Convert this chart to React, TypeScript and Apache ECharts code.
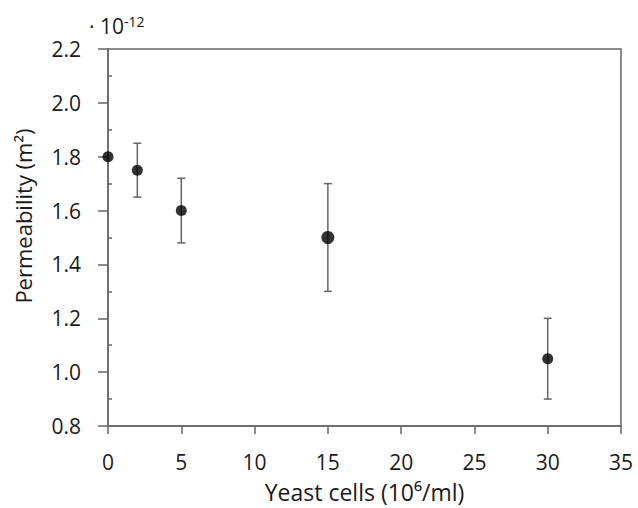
import React, { useEffect, useRef } from "react";
import * as echarts from "echarts";

const xValues = [0, 2, 5, 15, 30];
const meanValues = [1.8, 1.75, 1.6, 1.5, 1.05];
const lowValues = [1.8, 1.65, 1.48, 1.3, 0.9];
const highValues = [1.8, 1.85, 1.72, 1.7, 1.2];
const markerSizes = [11, 11, 11, 13, 11];
const xTitle = "Yeast cells (10⁶/ml)";
const yTitle = "Permeability (m²)";

const AXIS = "#6b6464";
const TEXT = "#1a1a1a";
const FONT = "Open Sans";

export default function App() {
  const ref = useRef<HTMLDivElement>(null);
  useEffect(() => {
    if (!ref.current) return;
    const chart = echarts.init(ref.current, undefined, { renderer: "svg" });
    const errData = xValues.map((x, i) => [x, lowValues[i], highValues[i]]);
    const ptData = xValues.map((x, i) => ({
      value: [x, meanValues[i]],
      symbolSize: markerSizes[i],
    }));
    chart.setOption({
      animation: false,
      backgroundColor: "#ffffff",
      grid: {
        left: 108,
        right: 17,
        top: 49,
        bottom: 82,
        show: true,
        borderColor: AXIS,
        borderWidth: 1.5,
        outerBoundsMode: "none",
      },
      graphic: [
        {
          type: "text",
          left: 89,
          top: 14,
          style: {
            text: "{a|· 10}{s|-12}",
            rich: {
              a: { fontFamily: FONT, fontSize: 21, fill: TEXT },
              s: {
                fontFamily: FONT,
                fontSize: 14,
                fill: TEXT,
                verticalAlign: "top",
                padding: [0, 0, 10, 0],
              },
            },
          },
        },
        {
          type: "text",
          x: 23,
          y: 216,
          rotation: Math.PI / 2,
          style: {
            text: yTitle,
            fontFamily: FONT,
            fontSize: 22,
            fill: TEXT,
            align: "center",
            verticalAlign: "middle",
          },
        },
      ],
      xAxis: {
        type: "value",
        min: 0,
        max: 35,
        interval: 5,
        name: xTitle,
        nameLocation: "middle",
        nameGap: 53,
        nameTextStyle: { fontFamily: FONT, fontSize: 23, color: TEXT, lineHeight: 26 },
        axisLine: { show: true, lineStyle: { color: AXIS, width: 1.5 } },
        axisTick: { show: true, inside: false, length: 8, lineStyle: { color: AXIS, width: 1.5 } },
        axisLabel: { fontFamily: FONT, fontSize: 21, color: TEXT, margin: 25, lineHeight: 22 },
        splitLine: { show: false },
      },
      yAxis: {
        type: "value",
        min: 0.8,
        max: 2.2,
        interval: 0.2,
        axisLine: { show: true, lineStyle: { color: AXIS, width: 1.5 } },
        axisTick: { show: true, inside: false, length: 10, lineStyle: { color: AXIS, width: 1.5 } },
        minorTick: { show: true, splitNumber: 2, length: -4, lineStyle: { color: AXIS, width: 1.5 } },
        axisLabel: {
          fontFamily: FONT,
          fontSize: 21,
          color: TEXT,
          margin: 27,
          formatter: (v: number) => v.toFixed(1),
        },
        splitLine: { show: false },
      },
      series: [
        {
          type: "custom",
          data: errData,
          encode: { x: 0, y: [1, 2] },
          z: 2,
          renderItem: (params: any, api: any) => {
            const x = api.value(0);
            const lo = api.coord([x, api.value(1)]);
            const hi = api.coord([x, api.value(2)]);
            if (Math.abs(lo[1] - hi[1]) < 1) return { type: "group", children: [] };
            const hw = 4;
            const style = { stroke: AXIS, lineWidth: 1.5 };
            return {
              type: "group",
              children: [
                { type: "line", shape: { x1: lo[0], y1: lo[1], x2: hi[0], y2: hi[1] }, style },
                { type: "line", shape: { x1: lo[0] - hw, y1: lo[1], x2: lo[0] + hw, y2: lo[1] }, style },
                { type: "line", shape: { x1: hi[0] - hw, y1: hi[1], x2: hi[0] + hw, y2: hi[1] }, style },
              ],
            };
          },
        },
        {
          type: "scatter",
          data: ptData,
          symbol: "circle",
          itemStyle: { color: "#000000" },
          z: 3,
        },
      ],
    });
    return () => chart.dispose();
  }, []);
  return (
    <div
      ref={ref}
      style={{ position: "fixed", left: 0, top: 0, width: 638, height: 508 }}
    />
  );
}
